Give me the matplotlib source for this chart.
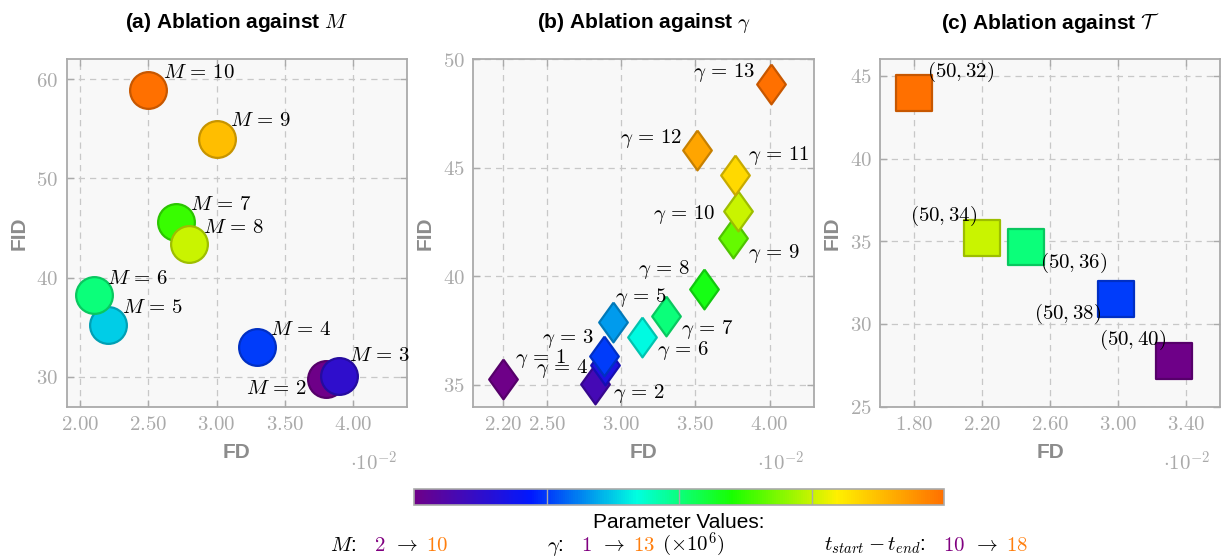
import numpy as np
import matplotlib
matplotlib.use('Agg')
import matplotlib.pyplot as plt
from matplotlib.colors import LinearSegmentedColormap, Normalize, to_rgb
from matplotlib.ticker import FixedLocator, FuncFormatter
from matplotlib.offsetbox import TextArea, HPacker, AnnotationBbox
import matplotlib.colorbar as mcolorbar

plt.rcParams['mathtext.fontset'] = 'cm'
plt.rcParams['font.family'] = ['Liberation Sans', 'DejaVu Sans']

# ---------------- data ----------------
m_values = [2, 3, 4, 5, 6, 7, 8, 9, 10]
m_fd = [3.80, 3.90, 3.30, 2.20, 2.10, 2.70, 2.80, 3.00, 2.50]
m_fid = [29.77, 30.10, 33.02, 35.19, 38.29, 45.63, 43.35, 53.92, 58.90]

gamma_values = [1, 2, 3, 4, 5, 6, 7, 8, 9, 10, 11, 12, 13]
gamma_fd = [2.20, 2.82, 2.89, 2.88, 2.94, 3.14, 3.30, 3.56, 3.75, 3.79, 3.77, 3.51, 4.01]
gamma_fid = [35.26, 35.05, 35.92, 36.33, 37.91, 37.19, 38.20, 39.40, 41.75, 43.02, 44.66, 45.81, 48.85]

t_pairs = [(50, 32), (50, 34), (50, 36), (50, 38), (50, 40)]
t_values = [18, 16, 14, 12, 10]
t_fd = [1.80, 2.20, 2.46, 2.99, 3.33]
t_fid = [43.95, 35.20, 34.64, 31.52, 27.75]

a_xticks = [2.0, 2.5, 3.0, 3.5, 4.0]
a_yticks = [30, 40, 50, 60]
b_xticks = [2.2, 2.5, 3.0, 3.5, 4.0]
b_yticks = [35, 40, 45, 50]
c_xticks = [1.8, 2.2, 2.6, 3.0, 3.4]
c_yticks = [25, 30, 35, 40, 45]

# ---------------- style ----------------
cmap = LinearSegmentedColormap.from_list('param', [
    (0.0, '#6e0088'), (0.22, '#0018ff'), (0.42, '#00ffe0'),
    (0.60, '#18ff00'), (0.80, '#fff000'), (1.0, '#ff7000')])

GRAY_T = '#aaaaaa'
GRAY_L = '#8c8c8c'
W, H = 1225, 558
FS_TICK = 15
FS_ANN = 15

fig = plt.figure(figsize=(W / 100, H / 100), dpi=100)


def px_rect(l, r, t, b):
    return [l / W, 1 - b / H, (r - l) / W, (b - t) / H]


def darker(c, f=0.78):
    r, g, b = to_rgb(c)
    return (r * f, g * f, b * f)


def style_axes(ax, xticks, yticks, xlim, ylim, xfmt):
    ax.set_facecolor('#f8f8f8')
    ax.set_xlim(*xlim)
    ax.set_ylim(*ylim)
    ax.xaxis.set_major_locator(FixedLocator(xticks))
    ax.yaxis.set_major_locator(FixedLocator(yticks))
    ax.xaxis.set_major_formatter(FuncFormatter(lambda v, p: '$' + (xfmt % v) + '$'))
    ax.yaxis.set_major_formatter(FuncFormatter(lambda v, p: '$%d$' % round(v)))
    ax.tick_params(direction='in', length=5, width=1.0, color=GRAY_T,
                   labelcolor=GRAY_T, labelsize=FS_TICK, top=True, right=True,
                   pad=6)
    for s in ax.spines.values():
        s.set_color(GRAY_T)
        s.set_linewidth(1.3)
    ax.grid(True, color='#c8c8c8', linestyle=(0, (5, 4)), linewidth=0.9)
    ax.set_axisbelow(True)
    h_ax = ax.get_position().height * H
    w_ax = ax.get_position().width * W
    ax.text(0.5, -(453 - 406.7) / h_ax, 'FD', transform=ax.transAxes,
            ha='center', va='center', fontsize=15, fontweight='bold', color=GRAY_L)
    ax.text(-48 / w_ax, 0.5, 'FID', transform=ax.transAxes, rotation=90,
            ha='center', va='center', fontsize=15, fontweight='bold', color=GRAY_L)
    ax.text(1 - 10 / w_ax, -(463 - 406.7) / h_ax, r'$\cdot10^{-2}$',
            transform=ax.transAxes, ha='right', va='center', fontsize=FS_TICK,
            color=GRAY_T)


def add_title(ax, text):
    h_ax = ax.get_position().height * H
    ax.text(0.5, 1 + (59.3 - 22.7) / h_ax, text, transform=ax.transAxes,
            ha='center', va='center', fontsize=15, fontweight='bold')


def annotate(ax, x, y, label, off):
    dx, dy, ha = off
    ax.annotate(label, (x, y), xytext=(dx, dy), textcoords='offset pixels',
                ha=ha, va='baseline', fontsize=FS_ANN, zorder=5)


# ---------------- panel (a) ----------------
axa = fig.add_axes(px_rect(66.7, 407.3, 59.3, 406.7))
style_axes(axa, a_xticks, a_yticks, (1.9, 4.4), (27, 62), '%.2f')
add_title(axa, r'(a) Ablation against $M$')
norm_a = Normalize(min(m_values), max(m_values))
a_off = [(-18, -15, 'right'), (10, 15, 'left'), (13, 12, 'left'),
         (14, 12, 'left'), (13, 11, 'left'), (14, 12, 'left'),
         (14, 11, 'left'), (13, 13, 'left'), (15, 12, 'left')]
for v, x, y, off in zip(m_values, m_fd, m_fid, a_off):
    c = cmap(norm_a(v))
    axa.scatter([x], [y], s=700, marker='o', color=c, edgecolor=darker(c),
                linewidth=1.6, zorder=3)
    annotate(axa, x, y, r'$M\,=\,%d$' % v, off)

# ---------------- panel (b) ----------------
axb = fig.add_axes(px_rect(473.3, 814, 59.3, 406.7))
style_axes(axb, b_xticks, b_yticks, (2.0, 4.3), (34, 50), '%.2f')
add_title(axb, r'(b) Ablation against $\gamma$')
norm_b = Normalize(min(gamma_values), max(gamma_values))
diamond = [(0, 1), (0.72, 0), (0, -1), (-0.72, 0), (0, 1)]
b_off = [(12, 16, 'left'), (18, -14, 'left'), (-11, 22, 'right'),
         (-15, -17, 'right'), (2, 20, 'left'), (15, -18, 'left'),
         (15, -18, 'left'), (-15, 15, 'right'), (15, -20, 'left'),
         (-23, -8, 'right'), (13, 15, 'left'), (-15, 7, 'right'),
         (-16, 7, 'right')]
for v, x, y, off in zip(gamma_values, gamma_fd, gamma_fid, b_off):
    c = cmap(norm_b(v))
    axb.scatter([x], [y], s=820, marker=diamond, color=c, edgecolor=darker(c),
                linewidth=1.6, zorder=3)
    annotate(axb, x, y, r'$\gamma\,=\,%d$' % v, off)

# ---------------- panel (c) ----------------
axc = fig.add_axes(px_rect(880, 1220, 59.3, 406.7))
style_axes(axc, c_xticks, c_yticks, (1.6, 3.6), (25, 46), '%.2f')
add_title(axc, r'(c) Ablation against $\mathcal{T}$')
norm_c = Normalize(min(t_values), max(t_values))
c_off = [(13, 16, 'left'), (-5, 17, 'right'), (14, -21, 'left'),
         (-15, -20, 'right'), (-8, 16, 'right')]
for (p1, p2), v, x, y, off in zip(t_pairs, t_values, t_fd, t_fid, c_off):
    c = cmap(norm_c(v))
    axc.scatter([x], [y], s=660, marker='s', color=c, edgecolor=darker(c),
                linewidth=1.6, zorder=3)
    annotate(axc, x, y, r'$(%d, %d)$' % (p1, p2), off)

# ---------------- colorbar ----------------
cax = fig.add_axes(px_rect(414, 944, 489.3, 505))
cb = mcolorbar.ColorbarBase(cax, cmap=cmap, norm=Normalize(0, 1),
                            orientation='horizontal')
cb.set_ticks([])
cb.outline.set_edgecolor(GRAY_T)
cb.outline.set_linewidth(1.2)
for q in (0.25, 0.5, 0.75):
    cax.axvline(q, color=GRAY_T, linewidth=1.0)

fig.text(679 / W, 1 - 522 / H, 'Parameter Values:', ha='center', va='center',
         fontsize=15)

PURPLE = '#800080'
ORANGE = '#ff7f0e'


def ta(s, color='black'):
    return TextArea(s, textprops=dict(color=color, fontsize=15))


def block(head, lo, hi, tail=None):
    inner = [ta(lo, PURPLE), ta(r'$\rightarrow$'), ta(hi, ORANGE)]
    if tail is not None:
        inner.append(ta(tail))
    return HPacker(children=[ta(head), HPacker(children=inner, sep=5.5, align='baseline', pad=0)],
                   sep=13, align='baseline', pad=0)


row = HPacker(children=[
    block(r'$M$:', r'$2$', r'$10$'),
    block(r'$\gamma$:', r'$1$', r'$13$', r'$(\times10^6)$'),
    block(r'$t_{start} - t_{end}$:', r'$10$', r'$18$'),
], sep=71, align='baseline', pad=0)
ab = AnnotationBbox(row, (679 / W, 1 - 545 / H), xycoords='figure fraction',
                    box_alignment=(0.5, 0.5), frameon=False, pad=0)
fig.add_artist(ab)

fig.savefig('out.png', dpi=100)
